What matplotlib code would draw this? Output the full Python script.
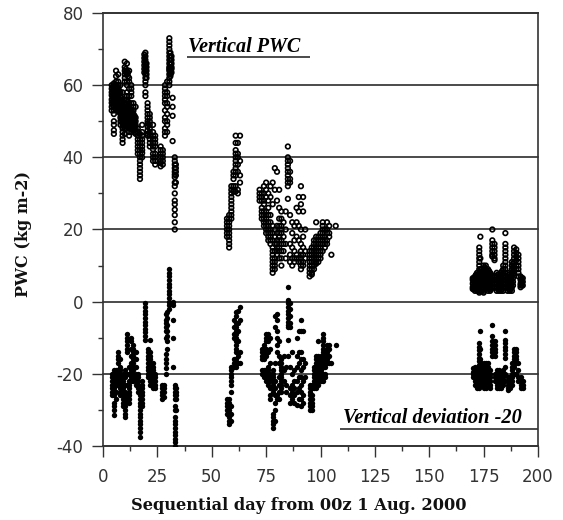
import matplotlib

matplotlib.use("Agg")
import matplotlib.pyplot as plt
import numpy as np
from matplotlib.ticker import MultipleLocator

x_ticks = [0, 25, 50, 75, 100, 125, 150, 175, 200]
y_ticks = [-40, -20, 0, 20, 40, 60, 80]

# one entry per day column
pwc_days = [4, 5, 6, 7, 8, 9, 10, 11, 12, 13, 14, 15, 16, 17, 18, 19.5, 20.5, 21.5, 23, 24, 26.5, 27.5, 28.5, 29.5, 30.5, 32, 33, 33.5]
pwc_vals = [
    [60, 59, 58, 57.2, 56, 55.1, 54, 53],
    [60.5, 59, 58, 57, 56, 55, 54, 53, 52, 50, 49, 47.5, 46.5],
    [64, 62.5, 61, 60, 59, 58, 57, 56, 55, 54],
    [63, 61, 60, 59, 58, 56.5, 55, 54, 53],
    [60, 58, 57, 56, 55, 54, 53, 52, 51, 50, 49],
    [58, 56, 55, 54, 53, 52, 51, 50, 49, 48, 47, 46, 45, 44],
    [66.5, 65, 64, 63, 62, 61, 55, 54, 53, 52, 51, 50, 49, 48, 46.5],
    [66, 64, 63, 61, 60, 58, 57, 56, 55, 54, 53, 52, 51.5],
    [64, 62, 61, 59, 57, 55, 54, 53, 52, 51, 50, 49, 48, 47, 46],
    [60, 59, 58, 57, 55, 53, 52, 51, 50, 49, 48, 47],
    [55, 54, 53, 52, 51, 50, 49, 48],
    [54, 51, 50, 49, 48, 47, 46.5],
    [48, 47, 46, 45, 44, 43, 42, 41],
    [46.5, 45, 44, 43, 42, 41, 40, 39, 38, 37, 36, 35, 34],
    [49, 47, 46, 45, 44, 43, 42, 41.2, 40],
    [69, 68, 67, 66, 65, 64, 63, 62, 61, 60, 58, 57],
    [55, 54, 53, 52, 51, 50, 49.3, 48.5, 47.5, 46.5, 46],
    [52, 51, 50, 49, 48, 47, 46, 45, 44, 43],
    [49, 47, 46, 45, 44, 43, 42.2, 41, 40, 39],
    [46, 45, 44, 43, 41, 40, 39, 38],
    [43, 42, 41, 40.2, 39, 38.4, 37.5],
    [42, 41, 40, 39, 38],
    [60, 59, 58, 57, 56, 55, 53, 51, 50, 48, 47, 46],
    [61, 58, 57, 55, 54, 52, 50, 49, 47],
    [73, 72, 71, 70, 69, 68, 67, 66, 65, 64.5, 64, 63, 62, 61, 60],
    [56.5, 54, 51.5, 44.5],
    [40, 39, 38, 37, 36, 35.2, 34.5, 33, 32, 30, 28, 27, 25.5, 24, 22, 20],
    [38, 37, 36, 35, 33],
]
pwc_days += [4.5, 5.5, 6.5, 7.5, 8.5, 9.5, 10.5, 11.5, 12.5, 13.5, 14.5, 19, 20, 31, 31.5]
pwc_vals += [
    [59.5, 58.5, 57.5, 56.5, 55.5, 54.5],
    [60, 58.5, 57.5, 56.5, 55.5, 54.5, 53.5],
    [59.5, 58.5, 57.5, 56.5, 55.5],
    [58.5, 57.5, 55.5, 54.5, 53.5, 52.5],
    [56.5, 55.5, 54.5, 53.5, 52.5, 51.5, 50.5],
    [53.5, 52.5, 51.5, 50.5, 49.5, 48.5],
    [64.5, 63.5, 53.5, 52.5, 51.5, 50.5, 49.5, 48.5],
    [63.5, 62.5, 55.5, 54.5, 53.5, 52.5],
    [53.5, 52.5, 51.5, 50.5, 49.5, 48.5],
    [52.5, 51.5, 50.5, 49.5, 48.5, 47.5],
    [51.5, 50.5, 49.5, 48.5, 47.5],
    [68.5, 67.5, 66.5, 65.5, 64.5, 63.5],
    [66, 65, 64, 63, 62],
    [69, 68, 67, 66, 65, 64, 63, 62.5],
    [68, 67, 66, 65, 64.5, 63.5],
]
pwc_days += [57, 58, 59, 60, 61, 62, 63]
pwc_vals += [
    [23, 22, 21, 20, 19, 18],
    [24, 23, 22, 21, 20, 19, 18, 17, 16, 15],
    [32, 31, 30, 29, 28, 27, 26, 25, 24, 23],
    [36, 35, 34, 32, 31, 30.5],
    [46, 44, 42, 41, 40, 39, 38, 37, 36, 35, 30.5, 32],
    [44, 41, 40, 38, 36, 31, 30],
    [46, 39, 35, 33],
]
pwc_days += [72, 73, 74, 75, 76, 77, 78, 79, 80, 81, 82, 83, 84, 85, 86, 87, 88, 89, 90, 91, 92, 93]
pwc_vals += [
    [31, 30, 29, 28],
    [30, 29, 28, 26, 25, 24, 23],
    [32, 30, 28, 27, 25, 24, 23, 22, 21],
    [33, 31, 29, 25, 24, 23, 22, 21, 20, 19],
    [30, 28, 26, 24, 22, 21, 20, 19, 18, 17],
    [32, 29, 24, 22, 20, 19, 18, 17, 16],
    [33, 27, 21, 19, 17, 15, 14, 13, 12, 11, 10, 9, 8],
    [37, 31, 20, 18, 16, 14, 12, 11, 10, 9],
    [36, 28, 21, 19, 17, 16, 15, 14, 13],
    [31, 26, 23, 21, 19, 18, 17, 15, 14, 12],
    [25, 23, 21, 20, 19, 17, 16, 14, 12, 10],
    [22, 18, 16, 14],
    [25, 20, 16, 12],
    [43, 40, 39, 38, 37, 36, 35, 34, 33, 32, 28.5],
    [39, 36, 34, 33, 24, 16, 13, 11],
    [22, 19, 15, 12, 10],
    [21, 17, 14, 12, 11],
    [26, 22, 18, 13, 12],
    [29, 25, 21, 17, 12, 11],
    [32, 27, 20, 16, 14, 13, 12, 11, 10, 9],
    [29, 25, 18, 15, 13, 11, 10],
    [20, 14, 12],
]
pwc_days += [95, 96, 97, 98, 99, 100, 101, 102, 103, 104, 105, 107]
pwc_vals += [
    [14, 13, 12, 11, 10, 9, 8, 7],
    [15, 14, 13, 12, 11, 10, 9, 8, 7.5],
    [17, 16, 15, 14, 13, 12, 11, 10, 9],
    [18, 17, 16, 15, 14, 13, 12, 11, 10.5, 22],
    [18, 17, 16, 15, 14, 13, 12, 11],
    [19, 18, 17, 16, 15, 14, 13, 12],
    [22, 21, 20, 19, 18, 17, 16, 14],
    [20, 18, 17, 16, 15],
    [22, 20, 19, 17, 16],
    [21, 19, 18],
    [13],
    [21],
]
pwc_days += [170, 171, 172, 173, 173.5, 174, 175, 176, 177, 178, 179, 180, 181, 182, 183, 184, 185, 186, 187, 188, 189, 190, 191, 192, 193]
pwc_vals += [
    [6.5, 6, 5, 4, 3.5],
    [7, 6, 5, 4, 3.5, 3],
    [8, 7, 6, 5, 4, 3],
    [15, 14, 13, 12, 11, 10, 9, 8, 7, 6, 5, 4, 3, 2.5],
    [18, 12, 9, 7, 5, 3],
    [9, 8, 7, 6, 5, 4, 3],
    [10, 9, 8, 7, 6, 5, 4, 3, 2.5],
    [10, 9, 8, 7, 6, 5, 4],
    [9, 8, 7, 6, 5, 4, 3],
    [8, 7, 6, 5, 4, 3.5, 3],
    [20, 17, 16, 15, 14, 13, 12.5],
    [16, 15, 14, 13, 12, 11.5, 7, 6, 5, 4],
    [8, 7, 6, 5, 4, 3],
    [7.5, 6.5, 5.5, 4.5, 3.5, 3],
    [8, 7, 6, 5, 4, 3],
    [10, 9, 8, 7, 6, 5, 4, 3],
    [19, 16, 15, 14, 13, 12, 11, 10, 9, 8, 7, 6],
    [8, 7, 6, 5, 4, 3],
    [7, 6, 5, 4, 3],
    [11, 10, 9, 8, 7, 6, 5, 4, 3],
    [15, 14, 13, 12, 11, 10, 9, 8],
    [14.5, 13.5, 12.5, 11.5, 10, 9],
    [13, 12, 11, 10, 9, 8, 7],
    [7, 6, 5, 4.5, 4],
    [6.5, 5.5, 4.5],
]
pwc_days += [170.5, 171.5, 172.5, 174.5, 175.5, 176.5, 177.5, 178.5, 181.5, 182.5, 183.5, 186.5, 187.5, 188.5, 192.5]
pwc_vals += [
    [6.5, 5.5, 4.5, 3.5],
    [7.5, 6.5, 5.5, 4.5, 3.5],
    [7.5, 6.5, 5.5, 4.5, 3.5],
    [8.5, 7.5, 6.5, 5.5, 4.5, 3.5],
    [9.5, 8.5, 7.5, 6.5, 5.5, 4.5, 3.5],
    [8.5, 7.5, 6.5, 5.5, 4.5],
    [8.5, 7.5, 6.5, 5.5, 4.5, 3.5],
    [7.5, 6.5, 5.5, 4.5, 3.5],
    [7.5, 6.5, 5.5, 4.5, 3.5],
    [7, 6, 5, 4, 3.5],
    [8.5, 7.5, 6.5, 5.5, 4.5, 3.5],
    [7.5, 6.5, 5.5, 4.5, 3.5],
    [6.5, 5.5, 4.5, 3.5],
    [10.5, 9.5, 8.5, 7.5, 6.5, 5.5, 4.5],
    [6.5, 6, 5.5, 5, 4.5],
]

dev_days = [4, 5, 6, 7, 8, 9, 10, 11, 12, 13, 14, 15, 16, 17, 18, 19.5, 20.5, 21.5, 23, 24, 27, 28, 29, 29.5, 30.5, 32, 33, 33.5]
dev_vals = [
    [-20, -21, -22, -23, -24, -25, -26],
    [-19, -20, -21, -22, -23, -24, -25, -26, -28, -29, -30, -31.5],
    [-19, -20, -21, -22, -23, -25, -27],
    [-14, -15, -16, -17, -19, -20, -21, -23],
    [-16, -18, -19, -20, -21, -22, -23, -24, -25, -26],
    [-20, -21, -22, -23, -24, -25, -26, -27, -28, -29],
    [-19, -21, -23, -25, -26, -27, -28, -29, -30, -31, -32],
    [-9, -10, -11, -12, -13, -14, -20, -23, -27],
    [-18, -20, -22, -23, -24, -25, -26, -27, -28],
    [-10, -11, -13, -15, -17, -19, -20, -21, -22],
    [-12, -13, -14, -15, -16, -17, -18, -19, -20, -21, -22],
    [-14, -16, -18, -20, -21, -22, -23],
    [-20, -21, -22, -23, -24, -25],
    [-25, -26, -27, -28, -29, -30, -31, -32, -33, -34, -35, -36, -37.5],
    [-22, -23, -24, -25, -26, -27, -28, -29],
    [-0.5, -1.5, -2.5, -3.5, -4.5, -5.5, -6.5, -7.5, -8.5, -9.5, -10.5],
    [-13, -14, -15, -16, -17, -18, -19, -20, -21],
    [-10.5, -14, -15, -16, -17, -18, -19, -20, -21, -22, -23],
    [-17, -18, -19, -20, -21, -22, -23, -24],
    [-20, -21, -22, -23, -24],
    [-23, -24, -25, -26, -27],
    [-23, -24, -25, -26.5],
    [-3.5, -5, -6, -7, -8, -10, -14.5, -16, -17, -18.5, -20],
    [-3, -4.5, -6.5, -8, -9.5, -11, -13],
    [9, 8, 7, 6, 5, 4, 3, 2, 1, 0, -1, -2],
    [-5, -10, -18, 0, -1],
    [-23, -24, -25, -26, -27, -29, -30, -32, -33, -34, -35, -36, -37, -38, -39, -40],
    [-24, -25, -26, -27, -30],
]
dev_days += [57, 58, 59, 60, 61, 62, 63]
dev_vals += [
    [-27, -28, -29, -30, -31],
    [-27, -28, -29, -30, -31, -32, -33, -34],
    [-18, -19, -20, -21, -22, -23, -25, -29, -31, -33],
    [-16, -17, -18, -5, -7, -9, -10],
    [-3, -4, -6, -7, -8, -9, -10, -11, -12, -13, -14, -16, -17, -18],
    [-2.5, -6, -8, -11, -15, -17],
    [-1.5, -5, -14, -17],
]
dev_days += [73, 74, 75, 76, 77, 78, 79, 80, 81, 82, 83, 84, 85, 86, 87, 88, 89, 90, 91, 92, 93]
dev_vals += [
    [-13, -14, -15, -16, -19, -20],
    [-12, -14, -16, -19, -20, -21],
    [-9, -10, -11, -13, -14, -15, -19, -20, -21, -22],
    [-9, -11, -14, -18, -19, -20, -21, -22, -23],
    [-10, -13, -17, -20, -21, -22, -24, -26, -27],
    [-19, -20, -21, -22, -23, -24, -25, -31, -32, -33, -34, -35],
    [-4, -7, -17, -22, -24, -26, -28, -30, -33],
    [-3.5, -5, -8, -10, -12, -14, -26, -27],
    [-11, -15, -17, -21, -23, -25, -27],
    [-16, -17, -18, -19, -20, -21, -22, -23, -24, -25],
    [-15, -19, -22],
    [-18, -23, -25],
    [4, 0.5, -0.5, -1.5, -2.5, -3.5, -4.5, -5.5, -6.5, -7, -10.5, -15],
    [-0.5, -2, -4, -6, -7, -18, -24, -26, -28],
    [-14, -20, -23, -25, -27],
    [-19, -22, -24, -26, -28],
    [-10, -15, -18, -22, -25, -28.5],
    [-8, -14, -17, -21, -24, -27],
    [-5, -8, -14, -16, -19, -21, -23, -25, -27, -29],
    [-8, -16, -18, -22, -26, -28],
    [-17, -21],
]
dev_days += [95, 96, 97, 98, 99, 100, 101, 102, 103, 104, 105, 107]
dev_vals += [
    [-23, -24, -25, -26, -27, -28, -29, -30],
    [-23, -24, -26, -27, -28, -29, -30],
    [-18, -19, -20, -21, -22, -23, -24],
    [-15, -16, -17, -18, -19, -20, -21, -22, -23, -24],
    [-11, -15, -16, -17, -18, -19, -20, -21, -22, -23],
    [-15, -16, -17, -18, -19, -20, -21, -22],
    [-9, -10, -11, -12, -13, -14, -15, -17, -18, -20, -22],
    [-14, -16, -18, -20, -21],
    [-12, -13, -14, -15, -16, -17],
    [-12, -13, -15, -17],
    [-17],
    [-12],
]
dev_days += [170, 171, 172, 173, 173.5, 174, 175, 176, 177, 178, 179, 180, 181, 182, 183, 184, 185, 186, 187, 188, 189, 190, 191, 192, 193]
dev_vals += [
    [-18.5, -19.5, -20, -21],
    [-18, -19, -20, -21, -22, -23],
    [-19, -20, -21, -22, -23, -24],
    [-11.5, -12.5, -13.5, -14.5, -15.5, -16.5, -17.5, -18.5, -19.5, -20.5, -21.5, -22.5, -24],
    [-8, -13, -16, -19, -22],
    [-17, -18, -19, -20, -21, -22, -23],
    [-17, -18, -19, -20, -21, -22, -23, -24],
    [-17, -18, -19, -20, -21, -22, -23, -24],
    [-17, -18, -19, -20, -21, -22, -23],
    [-19, -20, -21, -22, -23, -24],
    [-6.5, -9.5, -11, -12, -13, -14, -15],
    [-11, -12, -13, -14, -15, -20, -21, -22],
    [-19, -20, -21, -22, -23, -24],
    [-19, -20, -21, -22, -23, -24],
    [-20, -21, -22, -23, -24],
    [-19, -20, -21, -22, -23],
    [-8, -10.5, -11.5, -12.5, -13.5, -14.5, -15.5, -18, -20, -22],
    [-21, -22, -23, -24, -24.5],
    [-21, -22, -23, -24],
    [-17, -18, -19, -20, -21, -22, -23],
    [-13, -14, -15, -16, -17, -18, -20],
    [-13, -14, -15, -16, -17, -20],
    [-17, -19, -21, -22],
    [-21, -22, -23, -24],
    [-22, -23, -24],
]


def flatten(days, vals):
    xs = np.concatenate([[d] * len(v) for d, v in zip(days, vals)])
    ys = np.concatenate(vals)
    return xs, ys


def main() -> None:
    plt.rcParams["axes.unicode_minus"] = False
    fig = plt.figure(figsize=(5.63, 5.2), dpi=100)
    ax = fig.add_axes([103 / 563, (520 - 446) / 520, 435 / 563, 433 / 520])

    for y in y_ticks:
        ax.axhline(y, color="#1a1a1a", linewidth=1.1, zorder=1, clip_on=False)

    px, py = flatten(pwc_days, pwc_vals)
    dx, dy = flatten(dev_days, dev_vals)
    ax.scatter(px, py, s=11, facecolors="none", edgecolors="black", linewidths=1.2, zorder=3)
    ax.scatter(dx, dy, s=15, c="black", marker="o", linewidths=0, zorder=3)

    ax.set_xlim(0, 200)
    ax.set_ylim(-40, 80)
    ax.set_xticks(x_ticks)
    ax.set_yticks(y_ticks)
    ax.xaxis.set_minor_locator(MultipleLocator(12.5))
    ax.yaxis.set_minor_locator(MultipleLocator(10))
    ax.tick_params(axis="both", which="major", length=8, width=1, color="#333333", labelsize=12, labelcolor="#333333")
    ax.tick_params(axis="both", which="minor", length=3.5, width=1, color="#333333")
    ax.tick_params(axis="x", pad=8)
    ax.tick_params(axis="y", pad=6)
    for side in ["left", "right", "top", "bottom"]:
        ax.spines[side].set_color("#333333")
        ax.spines[side].set_linewidth(1.2)

    serif = "DejaVu Serif"
    fig.text(299 / 563, 1 - 505 / 520, "Sequential day from 00z 1 Aug. 2000", family=serif, weight="bold",
             fontsize=11.7, ha="center", va="center", color="#111111")
    fig.text(24 / 563, 1 - 234 / 520, "PWC (kg m-2)", family=serif, weight="bold", fontsize=11.5,
             rotation=90, ha="center", va="center", color="#111111")

    text_font = "Liberation Serif"
    ax.text(39, 70.6, "Vertical PWC", family=text_font, style="italic", weight="bold",
            fontsize=14.5, ha="left", va="center")
    ax.hlines(67.8, 38.6, 95, color="#1a1a1a", linewidth=1.1, zorder=2)
    ax.text(110.5, -32.2, "Vertical deviation -20", family=text_font, style="italic", weight="bold",
            fontsize=14.7, ha="left", va="center")
    ax.hlines(-35.2, 109, 200, color="#1a1a1a", linewidth=1.1, zorder=2)

    fig.savefig("out.png", dpi=100)
    plt.close(fig)


if __name__ == "__main__":
    main()
